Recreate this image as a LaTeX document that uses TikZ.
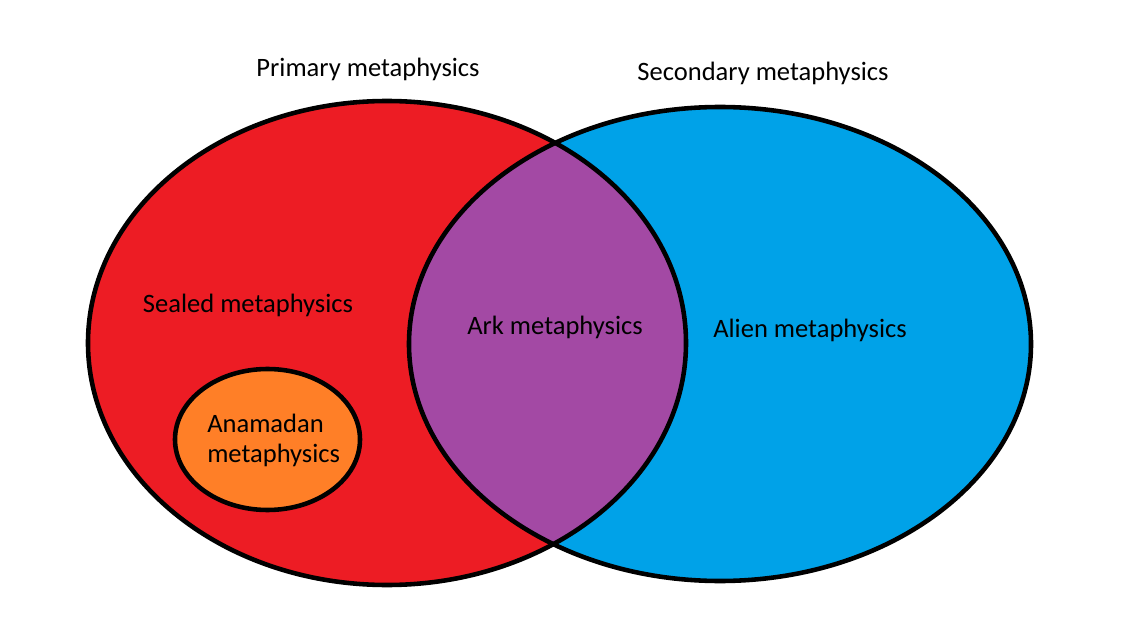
\documentclass[tikz,border=0pt]{standalone}
\usepackage{fontspec}
\setmainfont{Carlito}
\usepackage{xcolor}
\definecolor{vnred}{RGB}{237,28,36}
\definecolor{vnblue}{RGB}{0,162,232}
\definecolor{vnpurple}{RGB}{163,73,164}
\definecolor{vnorange}{RGB}{255,127,39}
\usepackage{tikz}

\begin{document}
\begin{tikzpicture}[line width=2.6pt, lbl/.style={font=\fontsize{15.1}{17}\selectfont, anchor=base}]
  \useasboundingbox (0,0) rectangle (22.86,12.78);
  \fill[vnred] (7.74,5.92) ellipse (5.98 and 4.84);
  \fill[vnblue] (14.40,5.90) ellipse (6.22 and 4.74);
  \begin{scope}
    \clip (7.74,5.92) ellipse (5.98 and 4.84);
    \fill[vnpurple] (14.40,5.90) ellipse (6.22 and 4.74);
  \end{scope}
  \draw (7.74,5.92) ellipse (5.98 and 4.84);
  \draw (14.40,5.90) ellipse (6.22 and 4.74);
  \draw[fill=vnorange] (5.35,3.99) ellipse (1.85 and 1.41);
  \node[lbl] (primary) at (7.36,11.24) {Primary metaphysics};
  \node[lbl] (secondary) at (15.26,11.16) {Secondary metaphysics};
  \node[lbl] (sealed) at (4.96,6.54) {Sealed metaphysics};
  \node[lbl] (ark) at (11.10,6.08) {Ark metaphysics};
  \node[lbl] (alien) at (16.20,6.02) {Alien metaphysics};
  \node[lbl, anchor=base west, align=left, inner sep=0pt] (anamadan) at (4.10,3.54) {Anamadan\\metaphysics};
\end{tikzpicture}
\end{document}
